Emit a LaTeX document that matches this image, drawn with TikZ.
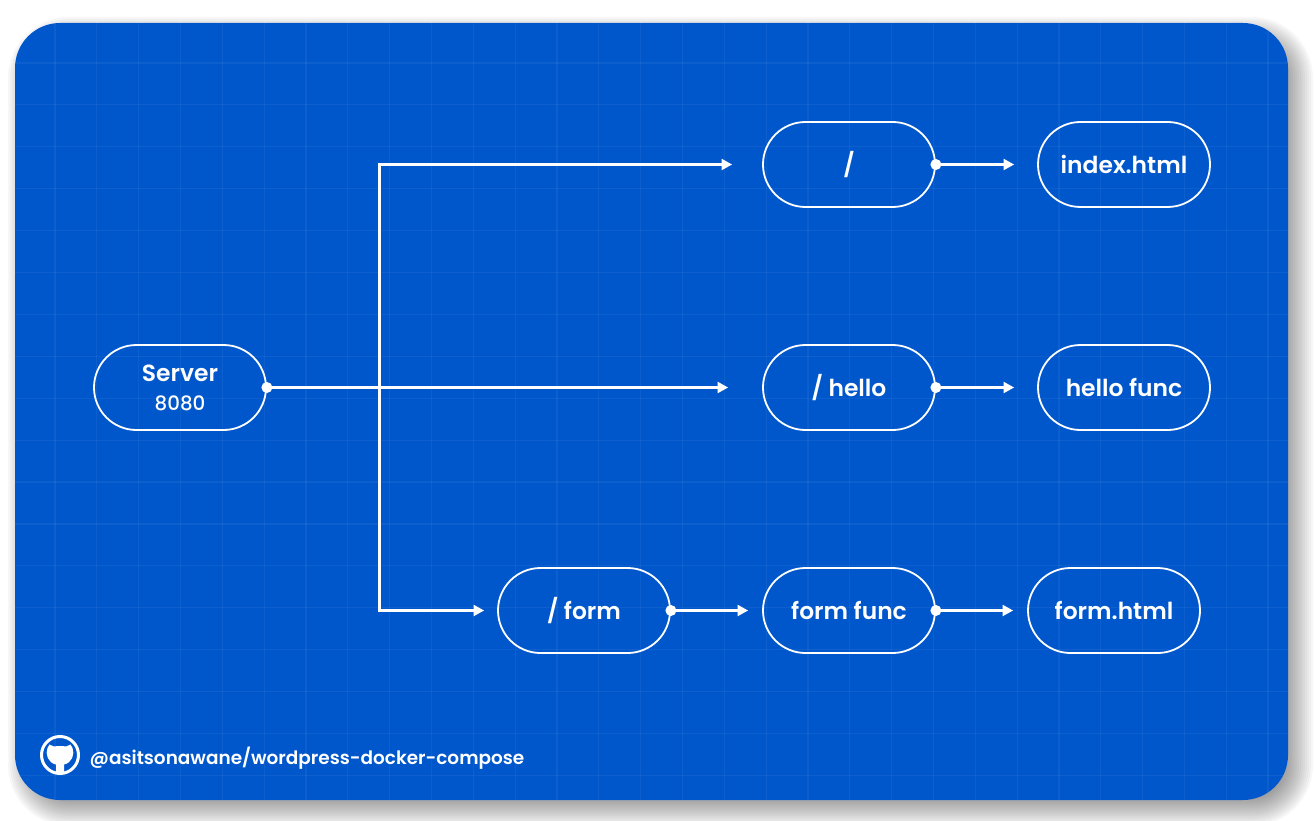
\documentclass[tikz,border=0pt]{standalone}
\usepackage{fontspec}
\setmainfont{Poppins SemiBold}
\newfontfamily\portfont{Poppins Medium}
\usetikzlibrary{arrows.meta}
\usetikzlibrary{positioning}
\usetikzlibrary{shapes.misc}
\definecolor{cardblue}{HTML}{0057CC}
\tikzset{pill/.style={draw=white,line width=1.8pt,rounded rectangle,rounded rectangle arc length=180,minimum width=172pt,minimum height=85pt,inner sep=0pt,text=white,font=\fontsize{23.4}{28}\selectfont,align=center}}
\tikzset{dot/.style={circle,fill=white,inner sep=0pt,minimum size=11pt}}
\tikzset{link/.style={draw=white,line width=2.05pt}}
\begin{document}
\begin{tikzpicture}[%
		x = 1pt, y = -1pt,
		> = {Triangle[length=10.5pt,width=11pt,fill=white]}, % arrow head style
		node distance = 100pt
		]
		
		\useasboundingbox (0,0) rectangle (1315,821);
		
		% Shadow
		\foreach \r in {-12,-10,...,16} {
			\fill[black,opacity=0.032,rounded corners=45pt+\r pt] (24-\r,33-\r) rectangle (1297+\r,810+\r);
		}
		
		% Card
		\fill[cardblue,rounded corners=45pt] (15,23) rectangle (1288,800);
		\begin{scope}
			\clip[rounded corners=45pt] (15,23) rectangle (1288,800);
			\foreach \k in {0,...,29} {
				\draw[white,opacity=0.05,line width=1.2pt] (55+41.83*\k,23) -- (55+41.83*\k,800);
			}
			\foreach \k in {0,...,17} {
				\draw[white,opacity=0.05,line width=1.2pt] (15,63+41.9*\k) -- (1288,63+41.9*\k);
			}
		\end{scope}
		
		\node[pill] (server) at (180,387.5) {Server\\[1pt]{\portfont\fontsize{19.8}{22}\selectfont 8080}};
		\node[pill] (hello) [right of=server, node distance=669pt] {/ hello};
		\node[pill] (slash) [above of=hello, node distance=223pt] {/};
		\node[pill] (ffunc) [below of=hello, node distance=223pt] {form func};
		\node[pill] (form) [left of=ffunc, node distance=265pt] {/ form};
		\node[pill] (index) [right of=slash, node distance=275pt] {index.html};
		\node[pill] (hfunc) [right of=hello, node distance=275pt] {hello func};
		\node[pill] (fhtml) [right of=ffunc, node distance=265pt] {form.html};
		
		\coordinate (trunktop) at (379.5,0 |- slash.west);
		\coordinate (trunkbot) at (379.5,0 |- form.west);
		
		% Trunk
		\draw[link,line cap=rect] (trunktop) -- (trunkbot);
		\draw[link,->,shorten >=30pt] (trunktop) -- (slash.west);
		\draw[link,->,shorten >=34pt] (server.east) -- (hello.west);
		\draw[link,->,shorten >=13pt] (trunkbot) -- (form.west);
		
		% Handlers
		\draw[link,->,shorten >=23pt] (slash.east) -- (index.west);
		\draw[link,->,shorten >=23pt] (hello.east) -- (hfunc.west);
		\draw[link,->,shorten >=14pt] (form.east) -- (ffunc.west);
		\draw[link,->,shorten >=14pt] (ffunc.east) -- (fhtml.west);
		
		\foreach \n in {server,slash,hello,form,ffunc} {
			\node[dot] at (\n.east) {};
		}
		
		% Footer
		\node[circle,draw=white,line width=3pt,minimum size=37pt,inner sep=0pt] (logo) at (60,755) {};
		\fill[white] (47.5,748) -- (49.5,744.5) -- (54,746.5) .. controls (57.5,745.8) and (62.5,745.8) .. (66,746.5) -- (70.5,744.5) -- (72.5,748)
			.. controls (75,754) and (72,763) .. (64,764.5) -- (64,773.5) .. controls (62,774) and (58,774) .. (56,773.5) -- (56,764.5)
			.. controls (48,763) and (45,754) .. (47.5,748) -- cycle;
		\node[right=9.5pt of logo,yshift=-3pt,inner sep=0pt,text=white,font=\fontsize{18.45}{22}\selectfont] (repo) {@asitsonawane/wordpress-docker-compose};
		
\end{tikzpicture}
\end{document}
